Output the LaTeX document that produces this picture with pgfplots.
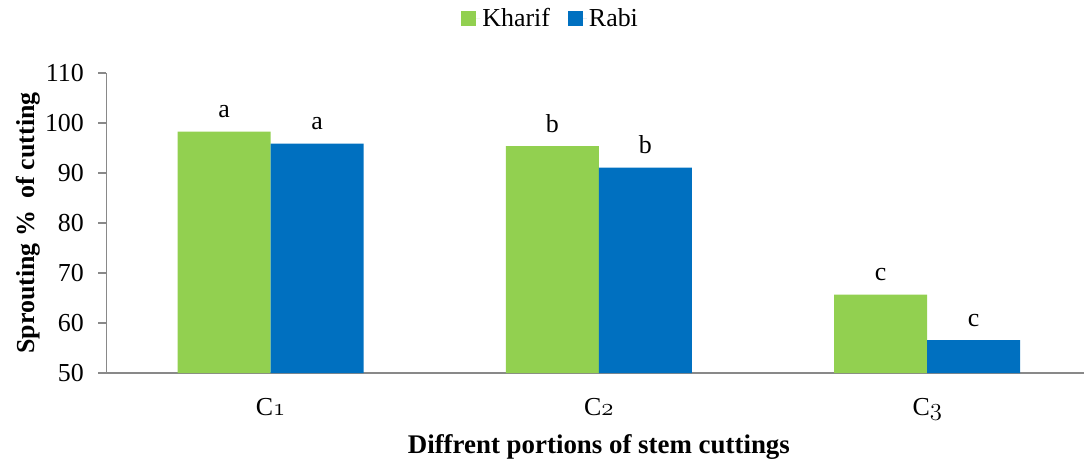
\documentclass[border=0pt]{standalone}
\usepackage{fontspec}
\setmainfont{Liberation Serif}
\usepackage{pgfplots}
\pgfplotsset{compat=1.18}
\definecolor{kgreen}{HTML}{92D050}
\definecolor{rblue}{HTML}{0070C0}
\definecolor{axgray}{HTML}{898989}
\newcommand{\bigf}{\fontsize{26}{30}\selectfont}
\begin{document}
\begin{tikzpicture}
\begin{axis}[
  scale only axis,
  width=985bp, height=300bp,
  ybar=0pt, bar width=93bp,
  xmin=-0.5, xmax=2.5,
  ymin=50, ymax=110,
  ytick={50,60,...,110},
  xtick=data,
  xticklabels={C$\mathnormal{1}$,C$\mathnormal{2}$,C$\mathnormal{3}$},
  axis lines=left,
  axis line style={-, draw=axgray, line width=1.2pt},
  x tick style={draw=none},
  y tick style={draw=axgray, line width=1.2pt},
  major tick length=8bp,
  tick align=outside,
  /pgf/number format/assume math mode=true,
  tick label style={font=\bigf, text=black},
  yticklabel style={xshift=-11bp},
  xticklabel style={yshift=-14bp},
  ylabel={\textbf{Sprouting \%\ \ of cutting}},
  ylabel style={font=\bigf, at={(rel axis cs:-0.0796,0.5)}, anchor=center},
  xlabel={\textbf{Diffrent portions of stem cuttings}},
  xlabel style={font=\fontsize{27}{31}\selectfont, at={(rel axis cs:0.5,-0.2467)}, anchor=center},
  legend style={at={(0.451,1.183)}, anchor=center, draw=none, legend columns=2, font=\bigf,
    /tikz/every even column/.append style={column sep=16bp}},
  legend image code/.code={\fill[#1] (0bp,-7.5bp) rectangle (15bp,7.5bp); \path (0bp,0bp) -- (19bp,0bp);},
  nodes near coords,
  point meta=explicit symbolic,
  nodes near coords style={font=\bigf, anchor=south, yshift=10bp, text=black},
]
\addplot[fill=kgreen, draw=none] coordinates {(0,98.3)[a] (1,95.4)[b] (2,65.7)[c]};
\addplot[fill=rblue, draw=none] coordinates {(0,95.9)[a] (1,91.1)[b] (2,56.6)[c]};
\legend{Kharif,Rabi}
\end{axis}
\pgfresetboundingbox
\path[use as bounding box] (-106.4bp,-90bp) rectangle (977.6bp,373bp);
\end{tikzpicture}
\end{document}
